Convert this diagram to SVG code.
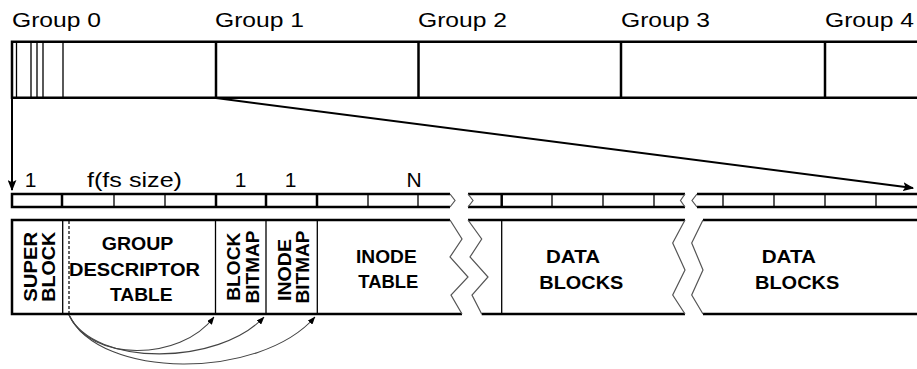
<svg xmlns="http://www.w3.org/2000/svg" width="917" height="369" viewBox="0 0 917 369">
  <defs>
    <style>
      .thick { fill: none; stroke: #000; stroke-width: 2.5; }
      .mid { fill: none; stroke: #000; stroke-width: 2; }
      .thin { fill: none; stroke: #000; stroke-width: 1.3; }
      .dash { fill: none; stroke: #000; stroke-width: 1.2; stroke-dasharray: 3 2; }
      .break { fill: none; stroke: #555; stroke-width: 1.2; stroke-linejoin: miter; }
      .curve { fill: none; stroke: #444; stroke-width: 1.1; }
      .lbl { font-family: "Liberation Sans", Arial, sans-serif; font-size: 19.5px; fill: #000; }
      .num { font-family: "Liberation Sans", Arial, sans-serif; font-size: 21px; fill: #000; }
      .bold { font-family: "Liberation Sans", Arial, sans-serif; font-size: 18.5px; font-weight: bold; fill: #000; }
    </style>
    <marker id="head" viewBox="0 0 10 8" refX="9" refY="4" markerWidth="11" markerHeight="9" markerUnits="userSpaceOnUse" orient="auto">
      <path d="M0,0 L10,4 L0,8 L2,4 Z" fill="#000"/>
    </marker>
    <marker id="small" viewBox="0 0 8 6" refX="7.5" refY="3" markerWidth="8" markerHeight="6" markerUnits="userSpaceOnUse" orient="auto">
      <path d="M0,0 L8,3 L0,6 Z" fill="#000"/>
    </marker>
  </defs>

  <!-- filesystem split into block groups -->
  <g id="groups-bar">
    <path class="thick" d="M917,41.7 H12 V97.7 H917"/>
    <g id="group0">
      <text class="lbl" x="12" y="27" textLength="89" lengthAdjust="spacingAndGlyphs">Group 0</text>
      <path class="thin" d="M16.5,41.7 V97.7 M31,41.7 V97.7 M37,41.7 V97.7 M43,41.7 V97.7 M63,41.7 V97.7"/>
    </g>
    <g id="group1">
      <text class="lbl" x="215" y="27" textLength="89" lengthAdjust="spacingAndGlyphs">Group 1</text>
      <path class="thick" d="M216,41.7 V97.7"/>
    </g>
    <g id="group2">
      <text class="lbl" x="418" y="27" textLength="89" lengthAdjust="spacingAndGlyphs">Group 2</text>
      <path class="thick" d="M418.5,41.7 V97.7"/>
    </g>
    <g id="group3">
      <text class="lbl" x="621" y="27" textLength="89" lengthAdjust="spacingAndGlyphs">Group 3</text>
      <path class="thick" d="M621,41.7 V97.7"/>
    </g>
    <g id="group4">
      <text class="lbl" x="825" y="27" textLength="89" lengthAdjust="spacingAndGlyphs">Group 4</text>
      <path class="thick" d="M825,41.7 V97.7"/>
    </g>
  </g>

  <!-- block strip of one group, with counts above -->
  <g id="block-strip">
    <text class="num" x="30.5" y="186.5" text-anchor="middle">1</text>
    <text class="num" x="87" y="186.5" textLength="95" lengthAdjust="spacingAndGlyphs">f(fs size)</text>
    <text class="num" x="240.5" y="186.5" text-anchor="middle">1</text>
    <text class="num" x="290.5" y="186.5" text-anchor="middle">1</text>
    <text class="num" x="414" y="186.5" text-anchor="middle">N</text>

    <path class="thick" d="M450,194 H12 V207 H450"/>
    <path class="break" d="M450,194 L455,200.5 L450,207"/>
    <path class="thick" d="M62,194 V207 M216,194 V207 M266,194 V207 M317,194 V207"/>
    <path class="thin" d="M114,194 V207 M165,194 V207 M368,194 V207 M418,194 V207"/>

    <path class="thick" d="M468,194 H685 M468,207 H685"/>
    <path class="break" d="M468,194 L473,200.5 L468,207 M685,194 L680.5,200.5 L685,207"/>
    <path class="thick" d="M501.7,194 V207"/>
    <path class="thin" d="M552,194 V207 M603,194 V207 M654,194 V207"/>

    <path class="thick" d="M697,194 H917 M697,207 H917"/>
    <path class="break" d="M697,194 L692,200.5 L697,207"/>
    <path class="thin" d="M723,194 V207 M774,194 V207 M825,194 V207 M876,194 V207"/>
  </g>

  <!-- group layout row -->
  <g id="layout-row">
    <path class="thick" d="M450,220 H12 V314 H462"/>
    <path class="break" d="M450,220 L462,239 L450,257 L468,277 L451,295 L462,314"/>
    <path class="thick" d="M468,220 H685 M481.7,314 H685"/>
    <path class="break" d="M468,220 L481.7,239 L470,257 L488,277 L472,295 L481.7,314"/>
    <path class="break" d="M685,220 L672.7,243 L685,270 L672.7,295 L685,314"/>
    <path class="thick" d="M703,220 H917 M703,314 H917"/>
    <path class="break" d="M703,220 L691.7,243 L703,270 L691.7,295 L703,314"/>
  </g>

  <g id="super-block">
    <path class="thin" d="M62.7,220 V314"/>
    <text class="bold" transform="translate(36.5,266.7) rotate(-90)" text-anchor="middle" textLength="70" lengthAdjust="spacingAndGlyphs">SUPER</text>
    <text class="bold" transform="translate(54.5,266.7) rotate(-90)" text-anchor="middle" textLength="70" lengthAdjust="spacingAndGlyphs">BLOCK</text>
  </g>

  <g id="group-descriptor-table">
    <path class="dash" d="M69,221 V314"/>
    <text class="bold" x="101.7" y="250" textLength="71.7" lengthAdjust="spacingAndGlyphs">GROUP</text>
    <text class="bold" x="69" y="275.7" textLength="131" lengthAdjust="spacingAndGlyphs">DESCRIPTOR</text>
    <text class="bold" x="110" y="300.7" textLength="62.7" lengthAdjust="spacingAndGlyphs">TABLE</text>
  </g>

  <g id="block-bitmap">
    <path class="thin" d="M215.5,220 V314"/>
    <text class="bold" transform="translate(239.8,266.7) rotate(-90)" text-anchor="middle" textLength="68" lengthAdjust="spacingAndGlyphs">BLOCK</text>
    <text class="bold" transform="translate(258.8,267) rotate(-90)" text-anchor="middle" textLength="73" lengthAdjust="spacingAndGlyphs">BITMAP</text>
  </g>

  <g id="inode-bitmap">
    <path class="thin" d="M266,220 V314"/>
    <text class="bold" transform="translate(290.5,270) rotate(-90)" text-anchor="middle" textLength="62" lengthAdjust="spacingAndGlyphs">INODE</text>
    <text class="bold" transform="translate(308.8,267) rotate(-90)" text-anchor="middle" textLength="73" lengthAdjust="spacingAndGlyphs">BITMAP</text>
  </g>

  <g id="inode-table">
    <path class="thin" d="M317.3,220 V314"/>
    <text class="bold" x="356" y="263.3" textLength="60.7" lengthAdjust="spacingAndGlyphs">INODE</text>
    <text class="bold" x="358.3" y="288.3" textLength="60" lengthAdjust="spacingAndGlyphs">TABLE</text>
  </g>

  <g id="data-blocks-1">
    <path class="thin" d="M501.7,220 V314"/>
    <text class="bold" x="546" y="263.3" textLength="54" lengthAdjust="spacingAndGlyphs">DATA</text>
    <text class="bold" x="539.3" y="289.3" textLength="84" lengthAdjust="spacingAndGlyphs">BLOCKS</text>
  </g>

  <g id="data-blocks-2">
    <text class="bold" x="761.7" y="263.3" textLength="54.3" lengthAdjust="spacingAndGlyphs">DATA</text>
    <text class="bold" x="755" y="289.3" textLength="84.3" lengthAdjust="spacingAndGlyphs">BLOCKS</text>
  </g>

  <!-- connectors -->
  <g id="connectors">
    <path class="mid" d="M12,98 V190" marker-end="url(#head)"/>
    <path class="mid" d="M216,98 L913,188" marker-end="url(#head)"/>
    <path class="curve" d="M69,315 C90,362 180,362 214,317" marker-end="url(#small)"/>
    <path class="curve" d="M69,315 C95,368 220,365 264,317" marker-end="url(#small)"/>
    <path class="curve" d="M69,315 C100,380 260,380 315,317" marker-end="url(#small)"/>
  </g>
</svg>
